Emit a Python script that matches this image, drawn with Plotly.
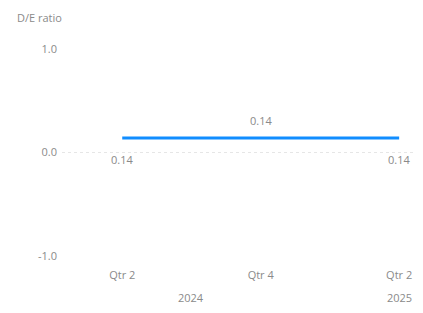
import plotly.graph_objects as go

# Data
quarters = ["Qtr 2", "Qtr 3", "Qtr 4", "Qtr 1", "Qtr 2"]
years = ["2024", "2024", "2024", "2025", "2025"]
de_ratio = [0.14, 0.14, 0.14, 0.14, 0.14]
label_idx = [0, 2, 4]
label_text = ["0.14", "0.14", "0.14"]
label_above = [False, True, False]
x_tick_idx = [0, 2, 4]
x_tick_labels = ["Qtr 2", "Qtr 4", "Qtr 2"]
y_ticks = [-1.0, 0.0, 1.0]
y_tick_labels = ["-1.0", "0.0", "1.0"]
year_labels = ["2024", "2025"]
year_centers = [1, 4]

x = list(range(len(quarters)))
FONT = "Open Sans, DejaVu Sans, sans-serif"
GRAY = "#8a8a8a"

fig = go.Figure()
fig.add_trace(go.Scatter(
    x=x, y=de_ratio, mode="lines",
    line=dict(color="#118DFF", width=3),
    hoverinfo="skip", showlegend=False,
))

for i, t, above in zip(label_idx, label_text, label_above):
    fig.add_annotation(x=x[i], y=de_ratio[i], xref="x", yref="y",
                       text=t, showarrow=False, yanchor="middle",
                       yshift=18 if above else -21,
                       font=dict(family=FONT, size=11, color=GRAY))

for yl, xc in zip(year_labels, year_centers):
    fig.add_annotation(x=xc, y=0, xref="x", yref="paper", yshift=-41,
                       text=yl, showarrow=False, yanchor="middle",
                       font=dict(family=FONT, size=11, color=GRAY))

fig.add_annotation(x=0, y=1, xref="paper", yref="paper", xshift=-47, yshift=32,
                   text="D/E ratio", showarrow=False, xanchor="left", yanchor="middle",
                   font=dict(family=FONT, size=11, color=GRAY))

fig.update_layout(
    width=415, height=305,
    margin=dict(l=54, r=10, t=41, b=57),
    paper_bgcolor="white", plot_bgcolor="white",
    font=dict(family=FONT, size=11, color=GRAY),
    xaxis=dict(range=[-0.87, 4.2], tickvals=x_tick_idx, ticktext=x_tick_labels,
               showgrid=False, zeroline=False, showline=False, ticks="",
               ticklabelstandoff=11, tickfont=dict(size=11, color=GRAY)),
    yaxis=dict(range=[-1.0, 1.0], tickvals=y_ticks, ticktext=y_tick_labels,
               showgrid=True, gridcolor="#e6e6e6", griddash="dot", gridwidth=1,
               zeroline=False, showline=False, ticks="",
               ticklabelstandoff=4, tickfont=dict(size=11, color=GRAY)),
)

fig.write_html("out.html")
